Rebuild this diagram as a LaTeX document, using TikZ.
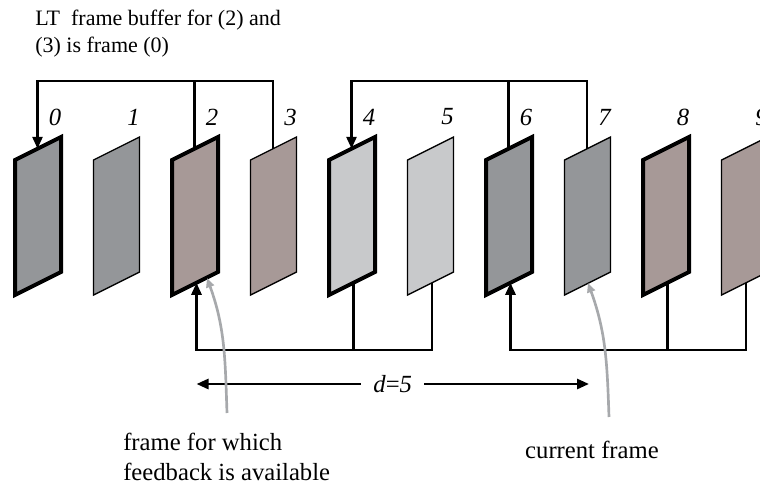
\documentclass[tikz,border=0pt]{standalone}
\usepackage{fontspec}
\setmainfont{Liberation Serif}
\usepackage{xcolor}
\definecolor{fgrey}{RGB}{148,150,153}
\definecolor{fbrown}{RGB}{167,153,151}
\definecolor{flight}{RGB}{200,201,203}
\definecolor{pointer}{RGB}{167,169,172}
\usetikzlibrary{arrows.meta,calc}
\tikzset{
  frm/.style={draw=black,line width=1pt,line join=miter},
  frmbold/.style={draw=black,line width=3pt,line join=miter},
  idx/.style={font=\fontsize{18.5}{22}\selectfont\itshape,inner sep=0pt},
  txt/.style={font=\fontsize{18.5}{22.5}\selectfont,align=left,inner sep=0pt},
  small/.style={font=\fontsize{16.5}{20.25}\selectfont,align=left,inner sep=0pt},
  conn/.style={line width=2pt,draw=black},
  arr/.style={conn,-{Triangle[length=9pt,width=7.5pt]}},
  dbl/.style={conn,{Triangle[length=9pt,width=7.5pt]}-{Triangle[length=9pt,width=7.5pt]}},
  ptr/.style={line width=2pt,draw=pointer,-{Triangle[length=7pt,width=6pt]}},
}

\begin{document}
\begin{tikzpicture}[x=0.75pt,y=-0.75pt]
    \useasboundingbox (0,0) rectangle (760,489);
    % frames 0..9
    \foreach \i/\col/\sty in {0/fgrey/frmbold,1/fgrey/frm,2/fbrown/frmbold,3/fbrown/frm,
        4/flight/frmbold,5/flight/frm,6/fgrey/frmbold,7/fgrey/frm,8/fbrown/frmbold,9/fbrown/frm}{
      \pgfmathsetmacro\l{15+78.5*\i}
      \draw[\sty,fill=\col] (\l,160) -- (\l+46,137) -- (\l+46,272) -- (\l,295) -- cycle;
      \node[idx] (n\i) at (\l+40,117) {\i};
      \coordinate (t\i) at (\l+22.5,148.75);
      \coordinate (b\i) at (\l+24.5,282.75);
    }
    \coordinate (bustop) at (0,81);
    \coordinate (busbot) at (0,350);
    \coordinate (dline) at (0,384);
    % long term references
    \draw[arr] (t3) -- (t3 |- bustop) -| (t0);
    \draw[conn] (t2) -- (t2 |- bustop);
    \draw[arr] (t7) -- (t7 |- bustop) -| (t4);
    \draw[conn] (t6) -- (t6 |- bustop);
    % feedback
    \draw[arr] (b5) -- (b5 |- busbot) -| (b2);
    \draw[conn] (b4) -- (b4 |- busbot);
    \draw[arr] (b9) -- (b9 |- busbot) -| (b6);
    \draw[conn] (b8) -- (b8 |- busbot);
    % delay
    \draw[dbl] (b2 |- dline) -- node[idx,fill=white,inner xsep=9pt] (dist) {d\upshape=\itshape 5} (b7 |- dline);
    % texts
    \node[small,anchor=west] (lt) at (35,33.5) {LT\ \ frame buffer for (2) and\\(3) is frame (0)};
    \node[txt,anchor=west] (fb) at (123,457) {frame for which\\feedback is available};
    \node[txt] (cur) at (592,450) {current frame};
    \coordinate (s1) at (227,413);
    \coordinate (e1) at (207,278);
    \coordinate (s2) at (609,417);
    \coordinate (e2) at (588,283);
    \draw[ptr] (s1) to[out=92,in=-70] (e1);
    \draw[ptr] (s2) to[out=92,in=-70] (e2);
  \end{tikzpicture}
\end{document}
